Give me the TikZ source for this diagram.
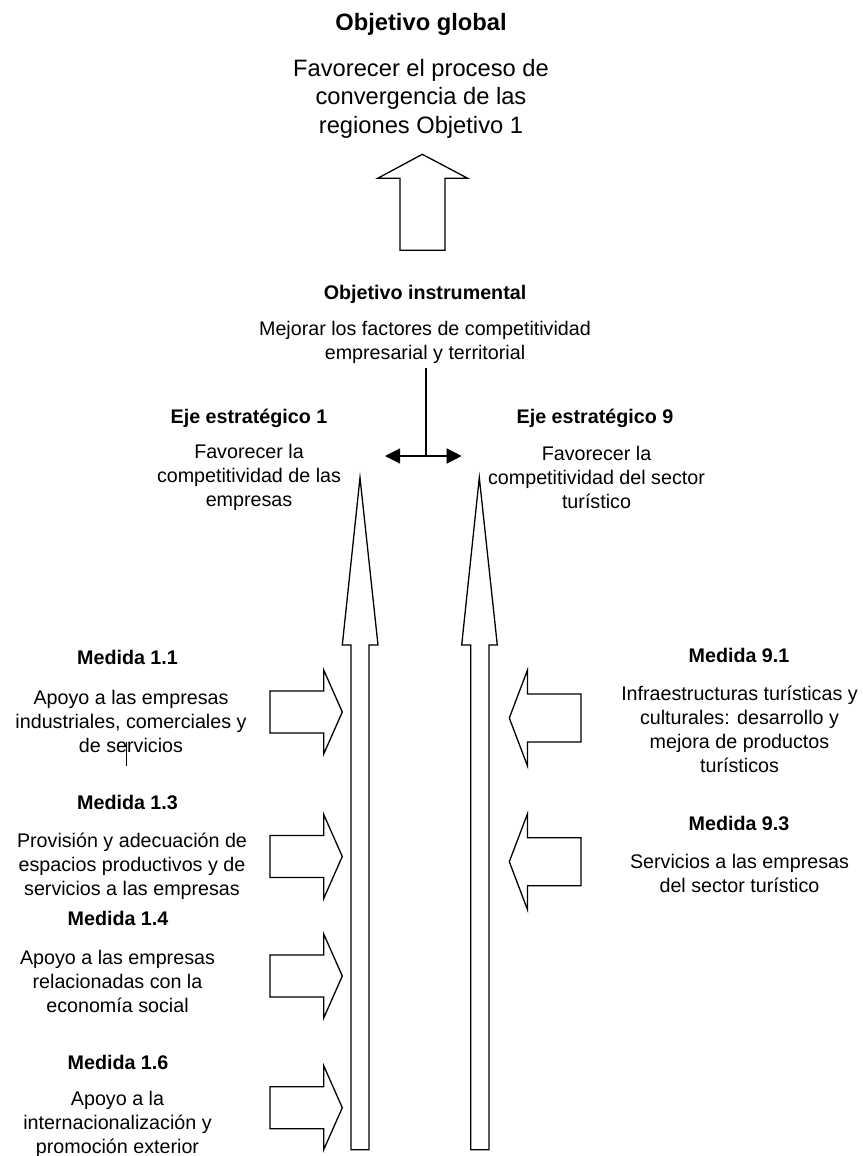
\documentclass[tikz,border=0pt]{standalone}
\usepackage{fontspec}
\setmainfont{Liberation Sans}
\usetikzlibrary{arrows.meta}
\begin{document}
\begin{tikzpicture}[x=1pt,y=-1pt,
  outl/.style={draw=black,line width=1.3pt,line join=miter,fill=white},
  conn/.style={draw=black,line width=1.3pt},
  txt/.style={font=\fontsize{19.7}{24}\selectfont,align=center,inner sep=0pt},
  headtxt/.style={font=\fontsize{19.7}{24}\selectfont\bfseries,inner sep=0pt,text height=14.2pt,text depth=0pt},
  bigtxt/.style={font=\fontsize{23.7}{28.5}\selectfont,align=center,inner sep=0pt},
  bighead/.style={font=\fontsize{23.7}{28.5}\selectfont\bfseries,inner sep=0pt,text height=17.1pt,text depth=0pt}]
\useasboundingbox (0,0) rectangle (862,1156);

% texts
\node[bighead] (og) at (421,22) {Objetivo global};
\node[bigtxt] (ogt) at (421,98.5) {Favorecer el proceso de\\convergencia de las\\regiones Objetivo 1};
\node[headtxt] (oi) at (425,292) {Objetivo instrumental};
\node[txt] (oit) at (425,342) {Mejorar los factores de competitividad\\empresarial y territorial};
\node[headtxt] (e1) at (249,416.5) {Eje estratégico 1};
\node[txt] (e1t) at (249,477) {Favorecer la\\competitividad de las\\empresas};
\node[headtxt] (e9) at (595,416.5) {Eje estratégico 9};
\node[txt] (e9t) at (596.5,477) {Favorecer la\\competitividad del sector\\turístico};
\node[headtxt] (m11) at (127.5,657) {Medida 1.1};
\node[txt] (m11t) at (131,721) {Apoyo a las empresas\\industriales, comerciales y\\de servicios};
\node[headtxt] (m13) at (127.5,802) {Medida 1.3};
\node[txt] (m13t) at (132,866) {Provisión y adecuación de\\espacios productivos y de\\servicios a las empresas};
\node[headtxt] (m14) at (118,918) {Medida 1.4};
\node[txt] (m14t) at (117.5,981) {Apoyo a las empresas\\relacionadas con la\\economía social};
\node[headtxt] (m16) at (118,1062.7) {Medida 1.6};
\node[txt] (m16t) at (117.5,1124.5) {Apoyo a la\\internacionalización y\\promoción exterior};
\node[headtxt] (m91) at (739,655) {Medida 9.1};
\node[txt] (m91t) at (739.5,729.7) {Infraestructuras turísticas y\\culturales: desarrollo y\\mejora de productos\\turísticos};
\node[headtxt] (m93) at (739,823) {Medida 9.3};
\node[txt] (m93t) at (739.5,873) {Servicios a las empresas\\del sector turístico};

% top block arrow
\draw[outl] (400,250.3) -- (400,178.3) -- (377.7,178.3) -- (422.3,154.3) -- (467.7,178.3) -- (445,178.3) -- (445,250.3) -- cycle;

% vertical line and double arrow
\coordinate (vtop) at (426,368);
\coordinate (vbot) at (426,456);
\coordinate (dl) at (385,456);
\coordinate (dr) at (461.7,456);
\draw[conn] (vtop) -- (vbot);
\draw[conn,{Triangle[length=15pt,width=15pt]}-{Triangle[length=15pt,width=15pt]}] (dl) -- (dr);

% long arrows
\draw[outl] (351,1149.7) -- (351,645) -- (342.3,645) -- (360,477.7) -- (378,645) -- (369,645) -- (369,1149.7) -- cycle;
\draw[outl] (470.7,1149.7) -- (470.7,645) -- (461.7,645) -- (479.3,477.7) -- (497.3,645) -- (489,645) -- (489,1149.7) -- cycle;

% left side arrows
\foreach \c in {712,856.5,976,1107.7}{
  \draw[outl] (270,\c-21) -- (323.7,\c-21) -- (323.7,\c-42) -- (342.3,\c) -- (323.7,\c+42) -- (323.7,\c+21) -- (270,\c+21) -- cycle;
}
% right side arrows
\foreach \c in {718,861.7}{
  \draw[outl] (581,\c-24) -- (527.5,\c-24) -- (527.5,\c-48) -- (509.3,\c) -- (527.5,\c+48) -- (527.5,\c+24) -- (581,\c+24) -- cycle;
}

% stray short line
\draw[conn] (126.7,741.7) -- (126.7,766);
\end{tikzpicture}
\end{document}
